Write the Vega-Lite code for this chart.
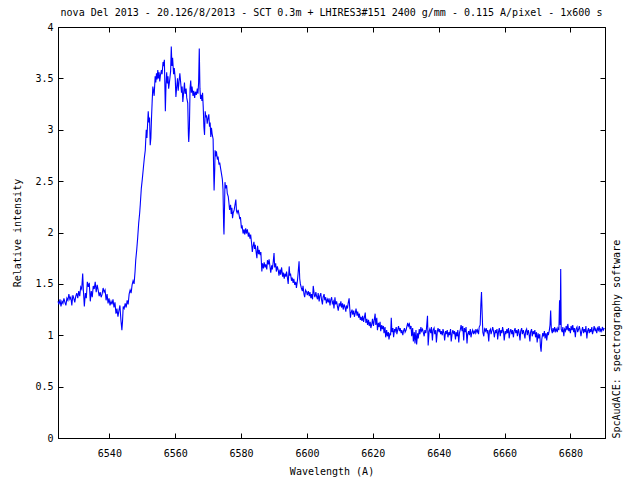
{
"$schema": "https://vega.github.io/schema/vega-lite/v6.json",
"width": 547, "height": 411,
"autosize": {"type": "none"},
"padding": {"left": 58, "top": 27, "right": 35, "bottom": 42},
"background": "white",
"title": {"text": "nova Del 2013 - 20.126/8/2013 - SCT 0.3m + LHIRES3#151 2400 g/mm - 0.115 A/pixel - 1x600 s", "font": "DejaVu Sans Mono", "fontSize": 10, "fontWeight": "normal", "color": "black", "anchor": "middle", "offset": 4},
"config": {
  "view": {"stroke": "black", "strokeWidth": 1},
  "axis": {"domain": true, "domainColor": "black", "grid": false, "tickColor": "black", "tickSize": -5, "labelFont": "DejaVu Sans Mono", "labelFontSize": 10, "labelColor": "black", "titleFont": "DejaVu Sans Mono", "titleFontSize": 10, "titleFontWeight": "normal", "titleColor": "black"}
},
"data": {"values": [
{"w":6524.4,"f":1.33},{"w":6524.7,"f":1.30},{"w":6525.0,"f":1.35},{"w":6525.3,"f":1.28},{"w":6525.6,"f":1.33},{"w":6525.9,"f":1.31},{"w":6526.2,"f":1.36},{"w":6526.5,"f":1.32},{"w":6526.8,"f":1.29},{"w":6527.1,"f":1.36},{"w":6527.4,"f":1.34},{"w":6527.7,"f":1.40},{"w":6528.0,"f":1.35},{"w":6528.3,"f":1.37},{"w":6528.6,"f":1.29},{"w":6528.9,"f":1.39},{"w":6529.2,"f":1.36},{"w":6529.5,"f":1.32},{"w":6529.8,"f":1.38},{"w":6530.1,"f":1.41},{"w":6530.4,"f":1.36},{"w":6530.7,"f":1.43},{"w":6531.0,"f":1.38},{"w":6531.3,"f":1.47},{"w":6531.6,"f":1.45},{"w":6531.9,"f":1.60},{"w":6532.1,"f":1.44},{"w":6532.4,"f":1.28},{"w":6532.7,"f":1.41},{"w":6533.0,"f":1.36},{"w":6533.3,"f":1.52},{"w":6533.6,"f":1.47},{"w":6533.9,"f":1.51},{"w":6534.2,"f":1.33},{"w":6534.5,"f":1.43},{"w":6534.8,"f":1.37},{"w":6535.1,"f":1.48},{"w":6535.4,"f":1.45},{"w":6535.7,"f":1.52},{"w":6536.0,"f":1.42},{"w":6536.3,"f":1.49},{"w":6536.6,"f":1.44},{"w":6536.9,"f":1.38},{"w":6537.2,"f":1.42},{"w":6537.5,"f":1.37},{"w":6537.8,"f":1.40},{"w":6538.1,"f":1.46},{"w":6538.4,"f":1.42},{"w":6538.7,"f":1.44},{"w":6539.0,"f":1.34},{"w":6539.3,"f":1.40},{"w":6539.6,"f":1.31},{"w":6539.9,"f":1.36},{"w":6540.2,"f":1.29},{"w":6540.5,"f":1.33},{"w":6540.8,"f":1.30},{"w":6541.1,"f":1.35},{"w":6541.4,"f":1.27},{"w":6541.7,"f":1.32},{"w":6542.0,"f":1.21},{"w":6542.3,"f":1.26},{"w":6542.6,"f":1.18},{"w":6542.9,"f":1.24},{"w":6543.2,"f":1.29},{"w":6543.5,"f":1.15},{"w":6543.8,"f":1.05},{"w":6544.0,"f":1.14},{"w":6544.2,"f":1.28},{"w":6544.5,"f":1.26},{"w":6544.8,"f":1.31},{"w":6545.1,"f":1.27},{"w":6545.4,"f":1.34},{"w":6545.7,"f":1.30},{"w":6546.0,"f":1.40},{"w":6546.3,"f":1.44},{"w":6546.6,"f":1.41},{"w":6546.9,"f":1.49},{"w":6547.2,"f":1.53},{"w":6547.5,"f":1.50},{"w":6547.8,"f":1.62},{"w":6548.0,"f":1.73},{"w":6548.3,"f":1.83},{"w":6548.6,"f":1.95},{"w":6548.9,"f":2.09},{"w":6549.2,"f":2.19},{"w":6549.4,"f":2.28},{"w":6549.7,"f":2.43},{"w":6550.0,"f":2.52},{"w":6550.3,"f":2.62},{"w":6550.6,"f":2.72},{"w":6550.9,"f":2.80},{"w":6551.2,"f":3.00},{"w":6551.4,"f":2.92},{"w":6551.6,"f":3.05},{"w":6551.8,"f":3.18},{"w":6552.0,"f":3.07},{"w":6552.2,"f":3.12},{"w":6552.4,"f":2.85},{"w":6552.6,"f":2.92},{"w":6552.8,"f":3.12},{"w":6553.0,"f":3.28},{"w":6553.2,"f":3.42},{"w":6553.4,"f":3.38},{"w":6553.6,"f":3.33},{"w":6553.9,"f":3.52},{"w":6554.1,"f":3.46},{"w":6554.3,"f":3.55},{"w":6554.5,"f":3.49},{"w":6554.7,"f":3.58},{"w":6554.9,"f":3.50},{"w":6555.1,"f":3.56},{"w":6555.3,"f":3.47},{"w":6555.5,"f":3.53},{"w":6555.8,"f":3.58},{"w":6556.0,"f":3.54},{"w":6556.3,"f":3.66},{"w":6556.5,"f":3.62},{"w":6556.7,"f":3.68},{"w":6556.9,"f":3.35},{"w":6557.0,"f":3.18},{"w":6557.2,"f":3.44},{"w":6557.4,"f":3.56},{"w":6557.6,"f":3.45},{"w":6557.8,"f":3.52},{"w":6558.0,"f":3.40},{"w":6558.3,"f":3.48},{"w":6558.6,"f":3.57},{"w":6558.8,"f":3.81},{"w":6559.0,"f":3.62},{"w":6559.2,"f":3.70},{"w":6559.5,"f":3.54},{"w":6559.7,"f":3.60},{"w":6560.0,"f":3.50},{"w":6560.2,"f":3.32},{"w":6560.4,"f":3.40},{"w":6560.7,"f":3.50},{"w":6560.9,"f":3.38},{"w":6561.1,"f":3.45},{"w":6561.4,"f":3.55},{"w":6561.7,"f":3.44},{"w":6561.9,"f":3.36},{"w":6562.1,"f":3.42},{"w":6562.3,"f":3.27},{"w":6562.6,"f":3.38},{"w":6562.8,"f":3.46},{"w":6563.0,"f":3.35},{"w":6563.3,"f":3.40},{"w":6563.5,"f":3.31},{"w":6563.8,"f":3.26},{"w":6564.0,"f":2.95},{"w":6564.1,"f":2.88},{"w":6564.3,"f":3.02},{"w":6564.5,"f":3.40},{"w":6564.7,"f":3.48},{"w":6564.9,"f":3.36},{"w":6565.1,"f":3.42},{"w":6565.4,"f":3.33},{"w":6565.6,"f":3.38},{"w":6565.9,"f":3.31},{"w":6566.1,"f":3.37},{"w":6566.4,"f":3.34},{"w":6566.7,"f":3.40},{"w":6566.9,"f":3.35},{"w":6567.1,"f":3.46},{"w":6567.3,"f":3.79},{"w":6567.5,"f":3.40},{"w":6567.7,"f":3.30},{"w":6567.9,"f":3.34},{"w":6568.1,"f":3.28},{"w":6568.3,"f":3.36},{"w":6568.5,"f":3.22},{"w":6568.7,"f":3.03},{"w":6568.9,"f":2.95},{"w":6569.1,"f":3.18},{"w":6569.3,"f":3.12},{"w":6569.5,"f":3.14},{"w":6569.7,"f":3.06},{"w":6569.9,"f":3.10},{"w":6570.2,"f":3.15},{"w":6570.4,"f":3.03},{"w":6570.6,"f":3.07},{"w":6570.8,"f":2.93},{"w":6571.0,"f":3.02},{"w":6571.2,"f":2.96},{"w":6571.5,"f":2.91},{"w":6571.7,"f":2.55},{"w":6571.8,"f":2.41},{"w":6572.0,"f":2.62},{"w":6572.1,"f":2.80},{"w":6572.3,"f":2.74},{"w":6572.5,"f":2.79},{"w":6572.8,"f":2.71},{"w":6573.0,"f":2.74},{"w":6573.3,"f":2.66},{"w":6573.5,"f":2.68},{"w":6573.8,"f":2.62},{"w":6574.0,"f":2.58},{"w":6574.3,"f":2.52},{"w":6574.5,"f":2.42},{"w":6574.7,"f":2.06},{"w":6574.8,"f":1.98},{"w":6575.0,"f":2.30},{"w":6575.1,"f":2.49},{"w":6575.3,"f":2.43},{"w":6575.6,"f":2.46},{"w":6575.8,"f":2.38},{"w":6576.1,"f":2.35},{"w":6576.3,"f":2.29},{"w":6576.5,"f":2.22},{"w":6576.8,"f":2.27},{"w":6577.0,"f":2.18},{"w":6577.2,"f":2.24},{"w":6577.4,"f":2.14},{"w":6577.6,"f":2.19},{"w":6577.9,"f":2.22},{"w":6578.1,"f":2.26},{"w":6578.4,"f":2.32},{"w":6578.6,"f":2.21},{"w":6578.8,"f":2.19},{"w":6579.1,"f":2.22},{"w":6579.4,"f":2.17},{"w":6579.6,"f":2.13},{"w":6579.8,"f":2.15},{"w":6580.1,"f":2.04},{"w":6580.3,"f":2.07},{"w":6580.6,"f":1.99},{"w":6580.9,"f":2.03},{"w":6581.1,"f":1.98},{"w":6581.4,"f":2.04},{"w":6581.6,"f":1.99},{"w":6581.9,"f":2.03},{"w":6582.2,"f":1.96},{"w":6582.4,"f":2.00},{"w":6582.7,"f":1.94},{"w":6582.9,"f":1.98},{"w":6583.2,"f":1.89},{"w":6583.4,"f":1.81},{"w":6583.6,"f":1.86},{"w":6583.9,"f":1.91},{"w":6584.1,"f":1.84},{"w":6584.3,"f":1.88},{"w":6584.6,"f":1.80},{"w":6584.8,"f":1.75},{"w":6585.0,"f":1.87},{"w":6585.3,"f":1.79},{"w":6585.5,"f":1.83},{"w":6585.8,"f":1.78},{"w":6586.0,"f":1.81},{"w":6586.3,"f":1.62},{"w":6586.5,"f":1.70},{"w":6586.8,"f":1.65},{"w":6587.0,"f":1.71},{"w":6587.3,"f":1.66},{"w":6587.5,"f":1.69},{"w":6587.8,"f":1.64},{"w":6588.0,"f":1.73},{"w":6588.3,"f":1.69},{"w":6588.5,"f":1.74},{"w":6588.8,"f":1.66},{"w":6589.0,"f":1.61},{"w":6589.3,"f":1.68},{"w":6589.5,"f":1.64},{"w":6589.8,"f":1.73},{"w":6590.0,"f":1.80},{"w":6590.2,"f":1.66},{"w":6590.5,"f":1.70},{"w":6590.7,"f":1.62},{"w":6591.0,"f":1.67},{"w":6591.3,"f":1.63},{"w":6591.5,"f":1.58},{"w":6591.8,"f":1.64},{"w":6592.0,"f":1.59},{"w":6592.3,"f":1.66},{"w":6592.6,"f":1.57},{"w":6592.8,"f":1.61},{"w":6593.1,"f":1.55},{"w":6593.3,"f":1.60},{"w":6593.6,"f":1.57},{"w":6593.8,"f":1.62},{"w":6594.1,"f":1.55},{"w":6594.3,"f":1.50},{"w":6594.6,"f":1.67},{"w":6594.8,"f":1.58},{"w":6595.0,"f":1.60},{"w":6595.3,"f":1.53},{"w":6595.5,"f":1.56},{"w":6595.8,"f":1.51},{"w":6596.0,"f":1.55},{"w":6596.3,"f":1.49},{"w":6596.6,"f":1.52},{"w":6596.8,"f":1.46},{"w":6597.1,"f":1.53},{"w":6597.3,"f":1.60},{"w":6597.6,"f":1.72},{"w":6597.8,"f":1.55},{"w":6598.0,"f":1.50},{"w":6598.3,"f":1.46},{"w":6598.6,"f":1.43},{"w":6598.8,"f":1.48},{"w":6599.1,"f":1.40},{"w":6599.3,"f":1.37},{"w":6599.6,"f":1.44},{"w":6599.9,"f":1.42},{"w":6600.1,"f":1.39},{"w":6600.4,"f":1.43},{"w":6600.7,"f":1.38},{"w":6600.9,"f":1.42},{"w":6601.2,"f":1.36},{"w":6601.4,"f":1.40},{"w":6601.7,"f":1.35},{"w":6601.9,"f":1.48},{"w":6602.2,"f":1.40},{"w":6602.4,"f":1.37},{"w":6602.7,"f":1.42},{"w":6602.9,"f":1.38},{"w":6603.2,"f":1.35},{"w":6603.4,"f":1.41},{"w":6603.7,"f":1.33},{"w":6603.9,"f":1.38},{"w":6604.2,"f":1.41},{"w":6604.4,"f":1.35},{"w":6604.7,"f":1.30},{"w":6604.9,"f":1.37},{"w":6605.2,"f":1.40},{"w":6605.4,"f":1.34},{"w":6605.7,"f":1.37},{"w":6605.9,"f":1.31},{"w":6606.2,"f":1.35},{"w":6606.5,"f":1.32},{"w":6606.7,"f":1.36},{"w":6607.0,"f":1.29},{"w":6607.2,"f":1.34},{"w":6607.5,"f":1.37},{"w":6607.7,"f":1.31},{"w":6608.0,"f":1.33},{"w":6608.2,"f":1.26},{"w":6608.5,"f":1.37},{"w":6608.7,"f":1.30},{"w":6609.0,"f":1.33},{"w":6609.2,"f":1.29},{"w":6609.5,"f":1.24},{"w":6609.8,"f":1.31},{"w":6610.0,"f":1.28},{"w":6610.3,"f":1.33},{"w":6610.5,"f":1.27},{"w":6610.8,"f":1.31},{"w":6611.0,"f":1.25},{"w":6611.3,"f":1.30},{"w":6611.5,"f":1.28},{"w":6611.8,"f":1.23},{"w":6612.0,"f":1.29},{"w":6612.3,"f":1.26},{"w":6612.5,"f":1.31},{"w":6612.8,"f":1.36},{"w":6613.0,"f":1.26},{"w":6613.2,"f":1.17},{"w":6613.4,"f":1.22},{"w":6613.7,"f":1.25},{"w":6613.9,"f":1.20},{"w":6614.2,"f":1.24},{"w":6614.4,"f":1.18},{"w":6614.7,"f":1.22},{"w":6614.9,"f":1.26},{"w":6615.2,"f":1.19},{"w":6615.4,"f":1.23},{"w":6615.7,"f":1.17},{"w":6615.9,"f":1.21},{"w":6616.2,"f":1.15},{"w":6616.4,"f":1.18},{"w":6616.7,"f":1.14},{"w":6616.9,"f":1.19},{"w":6617.2,"f":1.13},{"w":6617.4,"f":1.17},{"w":6617.7,"f":1.22},{"w":6617.9,"f":1.12},{"w":6618.2,"f":1.16},{"w":6618.4,"f":1.10},{"w":6618.7,"f":1.15},{"w":6618.9,"f":1.09},{"w":6619.2,"f":1.13},{"w":6619.4,"f":1.07},{"w":6619.7,"f":1.11},{"w":6619.9,"f":1.16},{"w":6620.2,"f":1.09},{"w":6620.4,"f":1.14},{"w":6620.7,"f":1.21},{"w":6620.9,"f":1.10},{"w":6621.2,"f":1.17},{"w":6621.4,"f":1.05},{"w":6621.7,"f":1.12},{"w":6621.9,"f":1.08},{"w":6622.2,"f":1.13},{"w":6622.4,"f":1.04},{"w":6622.7,"f":1.10},{"w":6622.9,"f":1.06},{"w":6623.2,"f":1.09},{"w":6623.4,"f":1.02},{"w":6623.7,"f":1.08},{"w":6623.9,"f":0.98},{"w":6624.2,"f":1.05},{"w":6624.4,"f":0.99},{"w":6624.7,"f":1.03},{"w":6624.9,"f":0.96},{"w":6625.2,"f":1.02},{"w":6625.4,"f":1.00},{"w":6625.6,"f":1.17},{"w":6625.8,"f":1.03},{"w":6626.1,"f":1.07},{"w":6626.3,"f":0.98},{"w":6626.6,"f":1.06},{"w":6626.8,"f":1.04},{"w":6627.1,"f":1.08},{"w":6627.3,"f":1.01},{"w":6627.6,"f":1.06},{"w":6627.8,"f":1.09},{"w":6628.1,"f":1.04},{"w":6628.3,"f":1.07},{"w":6628.6,"f":1.02},{"w":6628.8,"f":1.05},{"w":6629.1,"f":1.00},{"w":6629.3,"f":1.04},{"w":6629.6,"f":1.07},{"w":6629.8,"f":1.03},{"w":6630.1,"f":1.05},{"w":6630.3,"f":1.08},{"w":6630.6,"f":1.12},{"w":6630.8,"f":1.09},{"w":6631.1,"f":1.11},{"w":6631.3,"f":1.06},{"w":6631.6,"f":1.09},{"w":6631.8,"f":0.99},{"w":6632.1,"f":1.07},{"w":6632.3,"f":0.94},{"w":6632.6,"f":1.03},{"w":6632.8,"f":0.92},{"w":6633.1,"f":1.05},{"w":6633.3,"f":0.91},{"w":6633.6,"f":1.02},{"w":6633.8,"f":0.97},{"w":6634.1,"f":1.06},{"w":6634.3,"f":1.01},{"w":6634.6,"f":1.08},{"w":6634.8,"f":1.04},{"w":6635.1,"f":1.06},{"w":6635.3,"f":1.03},{"w":6635.6,"f":0.99},{"w":6635.8,"f":1.05},{"w":6636.1,"f":1.02},{"w":6636.3,"f":1.07},{"w":6636.6,"f":1.19},{"w":6636.8,"f":0.90},{"w":6637.1,"f":1.04},{"w":6637.3,"f":1.06},{"w":6637.6,"f":1.02},{"w":6637.8,"f":1.08},{"w":6638.1,"f":0.95},{"w":6638.3,"f":1.05},{"w":6638.6,"f":1.07},{"w":6638.8,"f":1.01},{"w":6639.1,"f":1.05},{"w":6639.3,"f":0.93},{"w":6639.6,"f":1.04},{"w":6639.8,"f":1.07},{"w":6640.1,"f":1.03},{"w":6640.3,"f":1.06},{"w":6640.6,"f":1.01},{"w":6640.8,"f":1.04},{"w":6641.1,"f":1.00},{"w":6641.3,"f":1.06},{"w":6641.6,"f":1.02},{"w":6641.8,"f":0.95},{"w":6642.1,"f":1.04},{"w":6642.3,"f":1.01},{"w":6642.6,"f":1.05},{"w":6642.8,"f":0.98},{"w":6643.1,"f":1.03},{"w":6643.3,"f":1.00},{"w":6643.6,"f":1.06},{"w":6643.8,"f":0.94},{"w":6644.1,"f":1.02},{"w":6644.3,"f":1.05},{"w":6644.6,"f":1.01},{"w":6644.8,"f":1.04},{"w":6645.1,"f":0.96},{"w":6645.3,"f":1.03},{"w":6645.6,"f":0.99},{"w":6645.8,"f":1.05},{"w":6646.1,"f":0.93},{"w":6646.3,"f":1.02},{"w":6646.6,"f":1.06},{"w":6646.8,"f":1.10},{"w":6647.1,"f":1.04},{"w":6647.3,"f":1.09},{"w":6647.6,"f":0.95},{"w":6647.8,"f":1.07},{"w":6648.1,"f":1.03},{"w":6648.3,"f":1.08},{"w":6648.6,"f":0.92},{"w":6648.8,"f":1.01},{"w":6649.1,"f":1.04},{"w":6649.3,"f":1.00},{"w":6649.6,"f":1.06},{"w":6649.8,"f":0.98},{"w":6650.1,"f":1.03},{"w":6650.3,"f":1.05},{"w":6650.6,"f":1.01},{"w":6650.8,"f":1.04},{"w":6651.1,"f":1.02},{"w":6651.3,"f":1.06},{"w":6651.6,"f":1.03},{"w":6651.8,"f":1.05},{"w":6652.1,"f":1.01},{"w":6652.3,"f":1.08},{"w":6652.6,"f":1.10},{"w":6652.8,"f":1.30},{"w":6653.0,"f":1.42},{"w":6653.2,"f":1.21},{"w":6653.4,"f":1.03},{"w":6653.7,"f":0.99},{"w":6653.9,"f":1.06},{"w":6654.2,"f":1.04},{"w":6654.4,"f":1.07},{"w":6654.7,"f":1.03},{"w":6654.9,"f":1.05},{"w":6655.2,"f":0.94},{"w":6655.4,"f":1.04},{"w":6655.7,"f":1.06},{"w":6655.9,"f":1.01},{"w":6656.2,"f":1.05},{"w":6656.4,"f":1.08},{"w":6656.7,"f":1.03},{"w":6656.9,"f":0.98},{"w":6657.2,"f":1.05},{"w":6657.4,"f":1.02},{"w":6657.7,"f":1.06},{"w":6657.9,"f":0.96},{"w":6658.2,"f":1.04},{"w":6658.4,"f":1.07},{"w":6658.7,"f":0.99},{"w":6658.9,"f":1.05},{"w":6659.2,"f":1.02},{"w":6659.4,"f":1.08},{"w":6659.7,"f":1.03},{"w":6659.9,"f":0.95},{"w":6660.2,"f":1.04},{"w":6660.4,"f":1.01},{"w":6660.7,"f":1.06},{"w":6660.9,"f":1.02},{"w":6661.2,"f":1.07},{"w":6661.4,"f":0.97},{"w":6661.7,"f":1.04},{"w":6661.9,"f":1.06},{"w":6662.2,"f":1.01},{"w":6662.4,"f":1.05},{"w":6662.7,"f":0.98},{"w":6662.9,"f":1.04},{"w":6663.2,"f":1.07},{"w":6663.4,"f":1.02},{"w":6663.7,"f":1.05},{"w":6663.9,"f":0.99},{"w":6664.2,"f":1.06},{"w":6664.4,"f":1.03},{"w":6664.7,"f":0.95},{"w":6664.9,"f":1.04},{"w":6665.2,"f":1.07},{"w":6665.4,"f":1.01},{"w":6665.7,"f":1.05},{"w":6665.9,"f":1.02},{"w":6666.2,"f":0.97},{"w":6666.4,"f":1.04},{"w":6666.7,"f":1.06},{"w":6666.9,"f":1.00},{"w":6667.2,"f":1.05},{"w":6667.4,"f":1.02},{"w":6667.7,"f":0.94},{"w":6667.9,"f":1.03},{"w":6668.2,"f":1.06},{"w":6668.4,"f":0.99},{"w":6668.7,"f":1.04},{"w":6668.9,"f":1.01},{"w":6669.2,"f":1.05},{"w":6669.4,"f":0.98},{"w":6669.7,"f":1.03},{"w":6669.9,"f":0.93},{"w":6670.2,"f":1.02},{"w":6670.4,"f":0.97},{"w":6670.7,"f":1.01},{"w":6670.9,"f":0.89},{"w":6671.1,"f":0.84},{"w":6671.3,"f":0.96},{"w":6671.6,"f":1.02},{"w":6671.8,"f":0.99},{"w":6672.1,"f":1.04},{"w":6672.3,"f":0.97},{"w":6672.6,"f":1.02},{"w":6672.8,"f":0.95},{"w":6673.1,"f":1.03},{"w":6673.3,"f":1.00},{"w":6673.6,"f":1.05},{"w":6673.8,"f":1.10},{"w":6674.0,"f":1.24},{"w":6674.2,"f":1.06},{"w":6674.5,"f":1.02},{"w":6674.7,"f":1.07},{"w":6675.0,"f":1.03},{"w":6675.2,"f":1.08},{"w":6675.5,"f":1.04},{"w":6675.7,"f":1.06},{"w":6676.0,"f":1.03},{"w":6676.2,"f":1.07},{"w":6676.5,"f":1.05},{"w":6676.7,"f":1.34},{"w":6676.9,"f":1.10},{"w":6677.05,"f":1.645},{"w":6677.2,"f":1.06},{"w":6677.5,"f":1.03},{"w":6677.7,"f":1.08},{"w":6678.0,"f":0.99},{"w":6678.2,"f":1.06},{"w":6678.5,"f":1.04},{"w":6678.7,"f":1.09},{"w":6679.0,"f":1.05},{"w":6679.2,"f":1.11},{"w":6679.5,"f":1.04},{"w":6679.7,"f":1.07},{"w":6680.0,"f":1.02},{"w":6680.2,"f":1.09},{"w":6680.5,"f":1.05},{"w":6680.7,"f":1.10},{"w":6681.0,"f":1.03},{"w":6681.2,"f":1.07},{"w":6681.5,"f":0.98},{"w":6681.7,"f":1.06},{"w":6682.0,"f":1.08},{"w":6682.2,"f":1.03},{"w":6682.5,"f":1.06},{"w":6682.7,"f":1.09},{"w":6683.0,"f":1.04},{"w":6683.2,"f":0.99},{"w":6683.5,"f":1.05},{"w":6683.7,"f":1.08},{"w":6684.0,"f":1.02},{"w":6684.2,"f":1.06},{"w":6684.5,"f":1.03},{"w":6684.7,"f":1.09},{"w":6685.0,"f":0.97},{"w":6685.2,"f":1.04},{"w":6685.5,"f":1.07},{"w":6685.7,"f":1.02},{"w":6686.0,"f":1.06},{"w":6686.2,"f":1.03},{"w":6686.5,"f":1.08},{"w":6686.7,"f":1.01},{"w":6687.0,"f":1.05},{"w":6687.2,"f":1.09},{"w":6687.5,"f":1.04},{"w":6687.7,"f":1.06},{"w":6688.0,"f":1.02},{"w":6688.2,"f":1.07},{"w":6688.5,"f":1.05},{"w":6688.7,"f":1.09},{"w":6689.0,"f":1.03},{"w":6689.2,"f":1.06},{"w":6689.5,"f":1.04},{"w":6689.7,"f":1.08},{"w":6690.0,"f":1.05},{"w":6690.3,"f":1.07}
]},
"layer": [
  {"mark": {"type": "line", "color": "#0000ff", "strokeWidth": 1.1},
   "encoding": {
     "x": {"field": "w", "type": "quantitative", "scale": {"domain": [6524.4, 6690.5], "nice": false, "zero": false},
           "axis": {"orient": "bottom", "values": [6540, 6560, 6580, 6600, 6620, 6640, 6660, 6680], "format": "d", "labelPadding": 15, "title": "Wavelength (A)", "titlePadding": 8}},
     "y": {"field": "f", "type": "quantitative", "scale": {"domain": [0, 4], "nice": false, "zero": true},
           "axis": {"orient": "left", "values": [0, 0.5, 1, 1.5, 2, 2.5, 3, 3.5, 4], "format": "~g", "labelPadding": 10, "title": "Relative intensity", "titlePadding": 12}}
   }},
  {"mark": {"type": "point", "opacity": 0},
   "encoding": {
     "x": {"field": "w", "type": "quantitative", "scale": {"domain": [6524.4, 6690.5], "nice": false, "zero": false},
           "axis": {"orient": "top", "values": [6540, 6560, 6580, 6600, 6620, 6640, 6660, 6680], "labels": false, "title": null}},
     "y": {"field": "f", "type": "quantitative", "scale": {"domain": [0, 4], "nice": false, "zero": true},
           "axis": {"orient": "right", "values": [0, 0.5, 1, 1.5, 2, 2.5, 3, 3.5, 4], "labels": false, "title": "SpcAudACE: spectrography software", "titleAngle": -90, "titleAnchor": "start", "titleAlign": "left", "titleBaseline": "top", "titlePadding": 6}}
   }}
],
"resolve": {"axis": {"x": "independent", "y": "independent"}}
}
